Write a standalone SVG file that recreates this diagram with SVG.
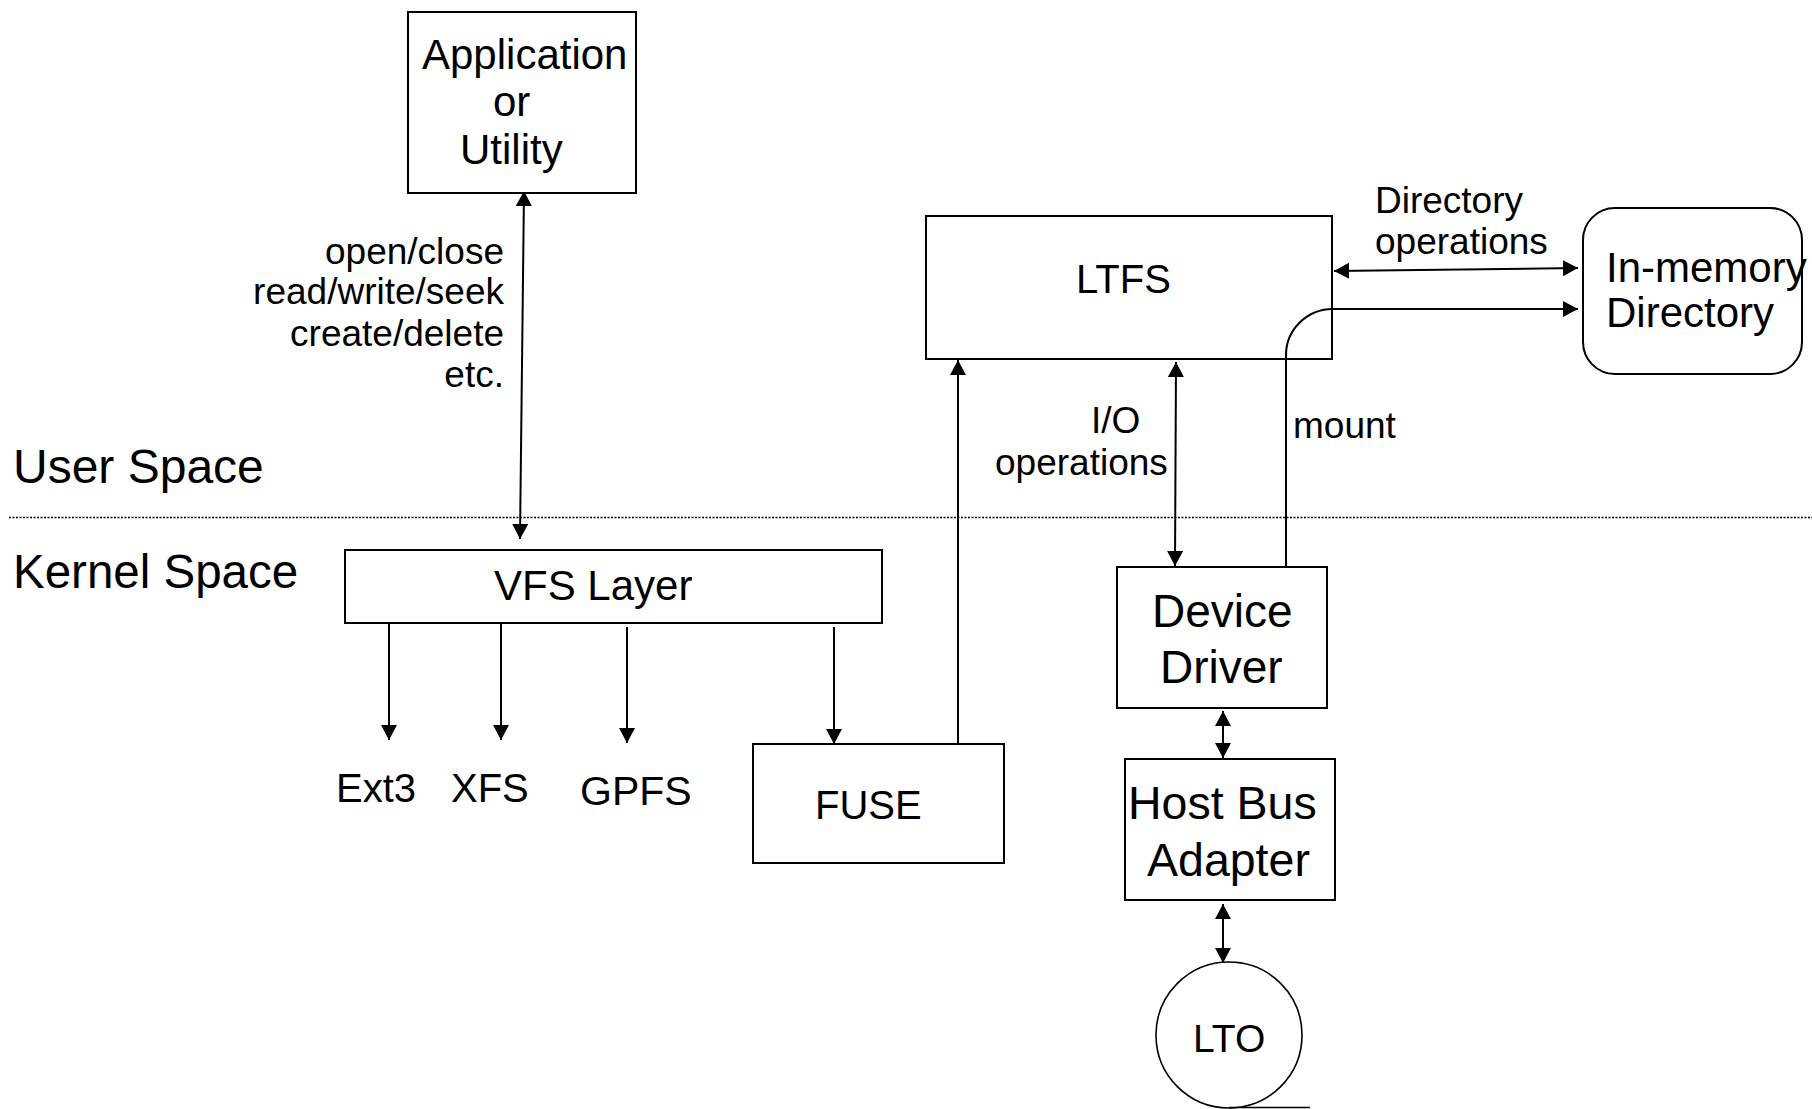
<svg xmlns="http://www.w3.org/2000/svg" width="1812" height="1109" viewBox="0 0 1812 1109">
<style>
text{font-family:"Liberation Sans",Arial,sans-serif;fill:#000}
.box{fill:#fff;stroke:#000;stroke-width:2}
.c{fill:none;stroke:#000;stroke-width:2}
.thin{fill:none;stroke:#000;stroke-width:1.6}
</style>
<defs>
<marker id="ah" markerUnits="userSpaceOnUse" markerWidth="16" markerHeight="17" refX="15" refY="8" orient="auto-start-reverse">
<path d="M0,0 L15,8 L0,16 z" fill="#000"/>
</marker>
</defs>
<rect width="1812" height="1109" fill="#fff"/>

<g id="space-labels">
<text x="13" y="483" font-size="48">User Space</text>
<line x1="9" y1="517.5" x2="1812" y2="517.5" stroke="#000" stroke-width="1.5" stroke-dasharray="2,1.5"/>
<text x="13" y="588" font-size="47.5">Kernel Space</text>
</g>

<g id="connectors">
<line class="c" x1="524" y1="191" x2="520" y2="539" marker-start="url(#ah)" marker-end="url(#ah)"/>
<line class="c" x1="389" y1="623" x2="389" y2="740" marker-end="url(#ah)"/>
<line class="c" x1="501" y1="623" x2="501" y2="740" marker-end="url(#ah)"/>
<line class="c" x1="627" y1="627" x2="627" y2="743" marker-end="url(#ah)"/>
<line class="c" x1="834" y1="627" x2="834" y2="744" marker-end="url(#ah)"/>
<line class="c" x1="958" y1="744" x2="958" y2="360" marker-end="url(#ah)"/>
<line class="c" x1="1176" y1="362" x2="1175" y2="566" marker-start="url(#ah)" marker-end="url(#ah)"/>
<line class="c" x1="1334" y1="271" x2="1578" y2="268" marker-start="url(#ah)" marker-end="url(#ah)"/>
<line class="c" x1="1223" y1="711" x2="1223" y2="758" marker-start="url(#ah)" marker-end="url(#ah)"/>
<line class="c" x1="1223" y1="904" x2="1223" y2="963" marker-start="url(#ah)" marker-end="url(#ah)"/>
<text x="504" y="264" font-size="37" text-anchor="end">open/close</text>
<text x="504" y="304" font-size="37" text-anchor="end">read/write/seek</text>
<text x="504" y="346" font-size="37" text-anchor="end">create/delete</text>
<text x="504" y="387" font-size="37" text-anchor="end">etc.</text>
<text x="1091" y="433" font-size="37">I/O</text>
<text x="995" y="475" font-size="37">operations</text>
<text x="1375" y="213" font-size="37">Directory</text>
<text x="1375" y="254" font-size="37">operations</text>
<text x="1293" y="438" font-size="37">mount</text>
</g>

<g id="app">
<rect class="box" x="408" y="12" width="228" height="181"/>
<text x="422" y="69" font-size="42">Application</text>
<text x="493" y="116" font-size="42">or</text>
<text x="460" y="164" font-size="42">Utility</text>
</g>

<g id="vfs">
<rect class="box" x="345" y="550" width="537" height="73"/>
<text x="494" y="600" font-size="42">VFS Layer</text>
</g>

<g id="ext3"><text x="336" y="802" font-size="40">Ext3</text></g>
<g id="xfs"><text x="451" y="802" font-size="40">XFS</text></g>
<g id="gpfs"><text x="580" y="805" font-size="41">GPFS</text></g>

<g id="fuse">
<rect class="box" x="753" y="744" width="251" height="119"/>
<text x="815" y="819" font-size="40">FUSE</text>
</g>

<g id="ltfs">
<rect class="box" x="926" y="216" width="406" height="143"/>
<text x="1076" y="293" font-size="40">LTFS</text>
</g>

<g id="mount-connector">
<path class="c" d="M1286,567 V355 A47,46 0 0 1 1333,309 H1578" marker-end="url(#ah)"/>
</g>

<g id="inmemory">
<rect class="box" x="1583" y="208" width="219" height="166" rx="32" ry="32"/>
<text x="1606" y="282" font-size="42">In-memory</text>
<text x="1606" y="327" font-size="42">Directory</text>
</g>

<g id="driver">
<rect class="box" x="1117" y="567" width="210" height="141"/>
<text x="1152" y="627" font-size="46">Device</text>
<text x="1160" y="683" font-size="46">Driver</text>
</g>

<g id="hba">
<rect class="box" x="1125" y="759" width="210" height="141"/>
<text x="1128" y="819" font-size="46.5">Host Bus</text>
<text x="1147" y="876" font-size="46.5">Adapter</text>
</g>

<g id="lto">
<circle class="thin" cx="1229" cy="1035" r="73"/>
<line class="thin" x1="1229" y1="1107.5" x2="1310" y2="1107.5"/>
<text x="1193" y="1052" font-size="39">LTO</text>
</g>
</svg>
